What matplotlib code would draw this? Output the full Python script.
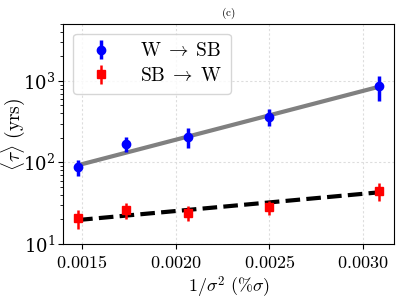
import matplotlib
matplotlib.use("Agg")
import matplotlib.pyplot as plt
from matplotlib.ticker import FuncFormatter, FixedLocator

plt.rcParams['mathtext.fontset'] = 'cm'
plt.rcParams['font.family'] = 'serif'
plt.rcParams['font.serif'] = ['DejaVu Serif']
plt.rcParams['axes.formatter.use_mathtext'] = True

# 1/sigma^2 for sigma = 26, 24, 22, 20, 18
inv_sigma2 = [1 / 676, 1 / 576, 1 / 484, 1 / 400, 1 / 324]

# W -> SB mean residence time and error
w_sb = [88, 168, 206, 363, 863]
w_sb_err = [20, 35, 55, 85, 290]

# SB -> W mean residence time and error
sb_w = [20.7, 26.1, 24.2, 28.2, 45]
sb_w_err = [5.5, 5.6, 5.0, 5.4, 11]

# exponential fit lines (end points)
fit_x = [inv_sigma2[0], inv_sigma2[-1]]
fit_w_sb = [92.6, 847]
fit_sb_w = [19.7, 43]

fig = plt.figure(figsize=(4.07, 3.02), dpi=100)
ax = fig.add_axes([0.155, 0.192, 0.813, 0.729])

ax.plot(fit_x, fit_w_sb, color='gray', lw=3, zorder=2)
ax.plot(fit_x, fit_sb_w, color='black', lw=3, ls=(0, (3.5, 1.5)), zorder=2)

ax.errorbar(inv_sigma2, w_sb, yerr=w_sb_err, fmt='o', color='blue',
            ms=6, elinewidth=2.5, capsize=0, zorder=3,
            label=r'$\mathrm{W}\;\rightarrow\;\mathrm{SB}$')
ax.errorbar(inv_sigma2, sb_w, yerr=sb_w_err, fmt='s', color='red',
            ms=6, elinewidth=1.8, capsize=0, zorder=3,
            label=r'$\mathrm{SB}\;\rightarrow\;\mathrm{W}$')

ax.set_yscale('log')
ax.set_ylim(10, 5000)
ax.xaxis.set_major_locator(FixedLocator([0.0015, 0.0020, 0.0025, 0.0030]))
ax.xaxis.set_major_formatter(FuncFormatter(lambda v, p: r'$%.4f$' % v))
ax.tick_params(axis='both', labelsize=13)
ax.tick_params(axis='y', pad=2)
ax.grid(True, which='major', ls=(0, (2, 2)), color='#dddddd', lw=0.8)

ax.set_xlabel(r'$1/\sigma^2\ (\%\sigma)$', fontsize=13, labelpad=2)
ax.set_ylabel(r'$\langle \tau \rangle\ (\mathrm{yrs})$', fontsize=14)
ax.yaxis.set_label_coords(-0.11, 0.5)
ax.set_title(r'$\mathrm{(c)}$', fontsize=8, pad=6)

ax.legend(loc='upper left', fontsize=14, handletextpad=1.0,
          borderpad=0.45, labelspacing=0.35)

fig.savefig('out.png', dpi=100)
